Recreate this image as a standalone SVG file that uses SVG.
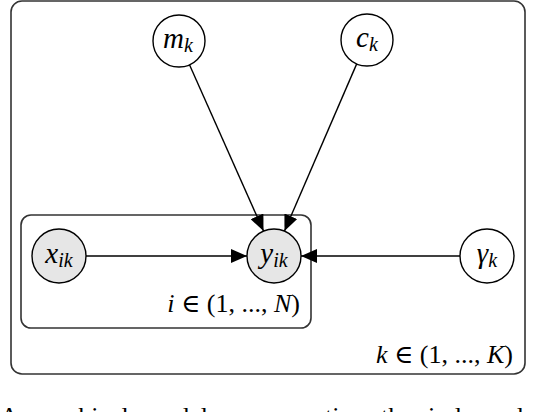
<svg xmlns="http://www.w3.org/2000/svg" width="536" height="412" viewBox="0 0 536 412">
<style>
.plate{fill:none;stroke:#333;stroke-width:1.6}
.obs{fill:#e6e6e6;stroke:#000;stroke-width:1.4}
.lat{fill:#fff;stroke:#000;stroke-width:1.4}
.edge{stroke:#000;stroke-width:1.4;fill:none}
.m{font-family:"Liberation Serif","DejaVu Serif",serif;font-style:italic;font-size:29px;fill:#000}
.pl{font-family:"Liberation Serif","DejaVu Serif",serif;font-style:italic;font-size:26px;fill:#000}
.sub{font-size:20px}
.r{font-style:normal}
.cap{font-family:"Liberation Serif","DejaVu Serif",serif;font-size:26px;fill:#000}
</style>
<defs>
<marker id="ah" markerUnits="userSpaceOnUse" markerWidth="17" markerHeight="14" refX="16" refY="7" orient="auto">
<path d="M0,0 L16,7 L0,14 Z" fill="#000"/>
</marker>
</defs>
<rect width="536" height="412" fill="#fff"/>
<g id="plate-k">
<rect class="plate" x="11" y="1" width="514" height="373" rx="11"/>
<text class="pl" x="513" y="363" text-anchor="end">k <tspan class="r">∈ (1, ..., </tspan>K<tspan class="r">)</tspan></text>
</g>
<g id="plate-i">
<rect class="plate" x="21" y="215" width="290" height="113" rx="10"/>
<text class="pl" x="300" y="312" text-anchor="end">i <tspan class="r">∈ (1, ..., </tspan>N<tspan class="r">)</tspan></text>
</g>
<g id="connectors">
<line class="edge" x1="189.5" y1="64.8" x2="263.5" y2="231" marker-end="url(#ah)"/>
<line class="edge" x1="356.7" y1="63.9" x2="284.5" y2="231" marker-end="url(#ah)"/>
<line class="edge" x1="86" y1="256" x2="247" y2="256" marker-end="url(#ah)"/>
<line class="edge" x1="460" y1="256" x2="301" y2="256" marker-end="url(#ah)"/>
</g>
<g id="node-m">
<circle class="lat" cx="179" cy="41" r="26"/>
<text class="m" x="178" y="48" text-anchor="middle">m<tspan class="sub" dy="4">k</tspan></text>
</g>
<g id="node-c">
<circle class="lat" cx="367" cy="40" r="26"/>
<text class="m" x="367" y="47" text-anchor="middle">c<tspan class="sub" dy="4">k</tspan></text>
</g>
<g id="node-x">
<circle class="obs" cx="59" cy="256" r="27"/>
<text class="m" x="59" y="263" text-anchor="middle">x<tspan class="sub" dy="4">ik</tspan></text>
</g>
<g id="node-y">
<circle class="obs" cx="274" cy="256" r="27"/>
<text class="m" x="274" y="263" text-anchor="middle">y<tspan class="sub" dy="4">ik</tspan></text>
</g>
<g id="node-gamma">
<circle class="lat" cx="487" cy="256" r="27"/>
<text class="m" x="487" y="263" text-anchor="middle">γ<tspan class="sub" dy="4">k</tspan></text>
</g>
<text class="cap" y="425"><tspan x="0">A</tspan><tspan x="32">graphical</tspan><tspan x="143">model</tspan><tspan x="237">representing</tspan><tspan x="381">the</tspan><tspan x="428">independ</tspan></text>
</svg>
